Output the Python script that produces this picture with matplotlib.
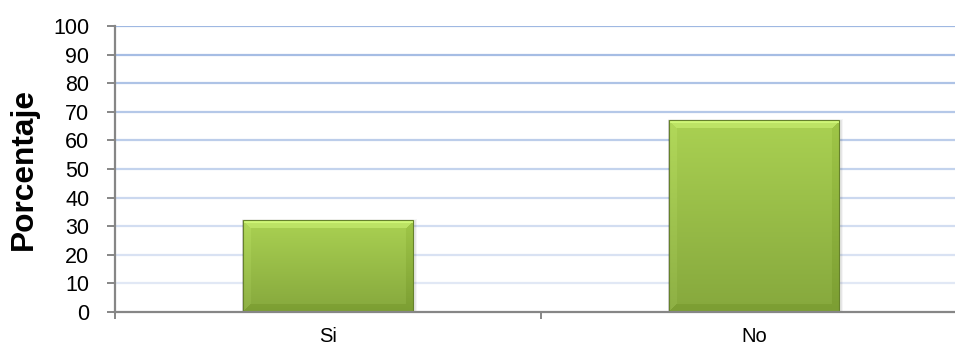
import numpy as np
import matplotlib.pyplot as plt
from matplotlib.patches import Rectangle
from matplotlib.colors import to_rgb

categorias = ["Si", "No"]
porcentajes = [32, 67]
y_ticks = [0, 10, 20, 30, 40, 50, 60, 70, 80, 90, 100]

W_PX, H_PX = 955, 345
fig = plt.figure(figsize=(W_PX / 100, H_PX / 100), dpi=100)
plt.rcParams['font.family'] = ['Liberation Sans', 'DejaVu Sans']

ax = fig.add_axes([115 / W_PX, 33 / H_PX, 840 / W_PX, 286 / H_PX])

# gridlines: blue at the top, fading out toward the baseline
for v in y_ticks[1:]:
    t = v / 100.0
    c = np.array(to_rgb("#e8edf7")) * (1 - t) + np.array(to_rgb("#9fb8e2")) * t
    ax.axhline(v, color=c, lw=1.6, zorder=0)

x = np.arange(len(categorias))
ancho = 0.40
barras = ax.bar(x, porcentajes, width=ancho, color="none", edgecolor="none", zorder=3)

for s in ["top", "right"]:
    ax.spines[s].set_visible(False)
for s in ["left", "bottom"]:
    ax.spines[s].set_color("#868686")
    ax.spines[s].set_linewidth(1.6)
ax.spines["bottom"].set_zorder(5)

ax.set_yticks(y_ticks)
ax.tick_params(axis="y", direction="out", length=6, width=1.4, color="#868686",
               labelsize=15.5, pad=12.5)
ax.set_xticks(x)
ax.set_xticklabels(categorias)
ax.tick_params(axis="x", which="major", length=0, labelsize=14.5, pad=11)
ax.set_xticks([-0.5, 0.5, 1.5], minor=True)
ax.tick_params(axis="x", which="minor", direction="out", length=5, width=1.4,
               color="#868686")

# limits last, set_xticks widens the view otherwise
ax.set_xlim(-0.5, 1.472)
ax.set_ylim(0, 100)

# bevelled green fill for each bar
fig.canvas.draw()
top_c = np.array(to_rgb("#aad152"))
bot_c = np.array(to_rgb("#86a83d"))
inv = ax.transData.inverted()
for rect in barras:
    x0, y0 = rect.get_x(), rect.get_y()
    w, h = rect.get_width(), rect.get_height()
    p0 = ax.transData.transform((x0, y0))
    p1 = ax.transData.transform((x0 + w, y0 + h))
    W = int(round(p1[0] - p0[0]))
    H = int(round(p1[1] - p0[1]))
    ii, jj = np.mgrid[0:H, 0:W]
    t = (ii / max(H - 1, 1))[..., None]
    img = top_c * (1 - t) + bot_c * t
    d_top, d_bot = ii, H - 1 - ii
    d_lft, d_rgt = jj, W - 1 - jj
    dmin = np.minimum(np.minimum(d_top, d_bot), np.minimum(d_lft, d_rgt))
    b = 8
    shade = np.zeros((H, W))
    shade[(dmin < b) & (d_rgt == dmin)] = -0.04
    shade[(dmin < b) & (d_lft == dmin)] = 0.03
    shade[(dmin < b) & (d_bot == dmin)] = -0.04
    shade[(dmin < b) & (d_top == dmin)] = 0.08
    shade[d_top < 3] = 0.15
    img = np.clip(img + shade[..., None], 0, 1)
    # soft shadow behind the bar
    dx = inv.transform((1, 0))[0] - inv.transform((0, 0))[0]
    dy = inv.transform((0, 1))[1] - inv.transform((0, 0))[1]
    for k, a in [(4, 0.04), (2.5, 0.06), (1.2, 0.10)]:
        ax.add_patch(Rectangle((x0 - dx * k * 0.3, y0), w + dx * k * 1.3, h + dy * k * 0.3,
                               facecolor="black", alpha=a, edgecolor="none", zorder=2))
    ax.imshow(img, extent=(x0, x0 + w, y0, y0 + h), aspect="auto",
              interpolation="bilinear", zorder=3)
    ax.add_patch(Rectangle((x0, y0), w, h, facecolor="none",
                           edgecolor="#66822c", lw=0.8, zorder=4))

ax.set_xlim(-0.5, 1.472)
ax.set_ylim(0, 100)

ax.set_ylabel("Porcentaje", fontsize=22.8, fontweight="bold")
ax.yaxis.set_label_coords((39 - 115) / 840, 0.5)

fig.savefig("out.png", dpi=100)
